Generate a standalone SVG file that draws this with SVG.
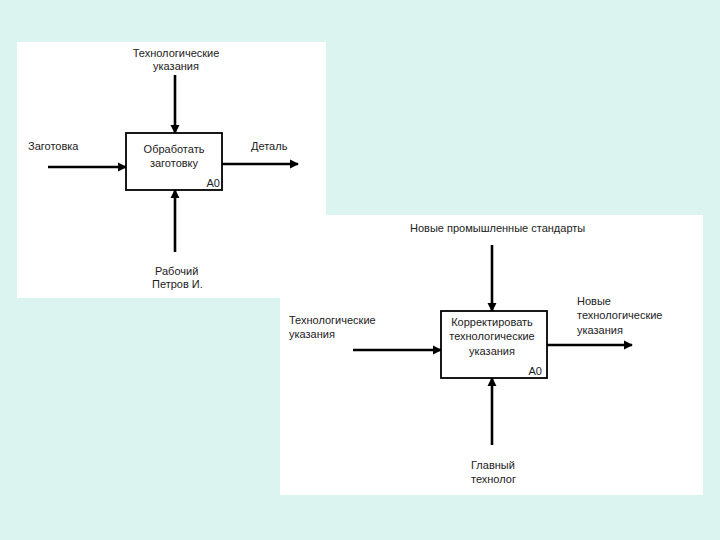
<svg xmlns="http://www.w3.org/2000/svg" width="720" height="540" viewBox="0 0 720 540">
<style>
text{font-family:"Liberation Sans",Arial,sans-serif;font-size:11px;fill:#222}
.c{text-anchor:middle}
.e{text-anchor:end}
.box{fill:#fff;stroke:#000;stroke-width:1.8}
.arr{stroke:#000;stroke-width:2.6;fill:none;marker-end:url(#ah)}
</style>
<defs>
<marker id="ah" viewBox="0 0 10 10" refX="9" refY="5" markerWidth="3.6" markerHeight="3.6" orient="auto" markerUnits="strokeWidth">
<path d="M0,0 L10,5 L0,10 z" fill="#000"/>
</marker>
</defs>
<rect width="720" height="540" fill="#dcf4f0"/>
<rect x="17" y="42" width="309" height="256" fill="#fff"/>
<rect x="280" y="215" width="423" height="280" fill="#fff"/>
<g id="connectors">
<line class="arr" x1="175" y1="75" x2="175" y2="133"/>
<line class="arr" x1="48" y1="167" x2="126" y2="167"/>
<line class="arr" x1="222" y1="164" x2="298" y2="164"/>
<line class="arr" x1="175" y1="252" x2="175" y2="190"/>
<line class="arr" x1="492" y1="245" x2="492" y2="311"/>
<line class="arr" x1="353" y1="350" x2="441" y2="350"/>
<line class="arr" x1="547" y1="345" x2="632" y2="345"/>
<line class="arr" x1="492" y1="445" x2="492" y2="378"/>
</g>
<g id="node-a0-1">
<rect class="box" x="126" y="133" width="96" height="57"/>
<text class="c" x="174" y="153">Обработать</text>
<text class="c" x="174" y="167">заготовку</text>
<text class="e" x="220" y="187">А0</text>
</g>
<g id="labels-1">
<text class="c" x="176" y="57">Технологические</text>
<text class="c" x="176" y="70">указания</text>
<text x="28" y="150">Заготовка</text>
<text x="251" y="150">Деталь</text>
<text x="155" y="275">Рабочий</text>
<text x="152" y="288">Петров И.</text>
</g>
<g id="node-a0-2">
<rect class="box" x="441" y="311" width="106" height="67"/>
<text class="c" x="492" y="326">Корректировать</text>
<text class="c" x="492" y="340">технологические</text>
<text class="c" x="492" y="355">указания</text>
<text class="e" x="542" y="375">А0</text>
</g>
<g id="labels-2">
<text x="410" y="232">Новые промышленные стандарты</text>
<text x="289" y="324">Технологические</text>
<text x="289" y="338">указания</text>
<text x="577" y="305">Новые</text>
<text x="577" y="319">технологические</text>
<text x="577" y="334">указания</text>
<text x="471" y="469">Главный</text>
<text x="471" y="483">технолог</text>
</g>
</svg>
